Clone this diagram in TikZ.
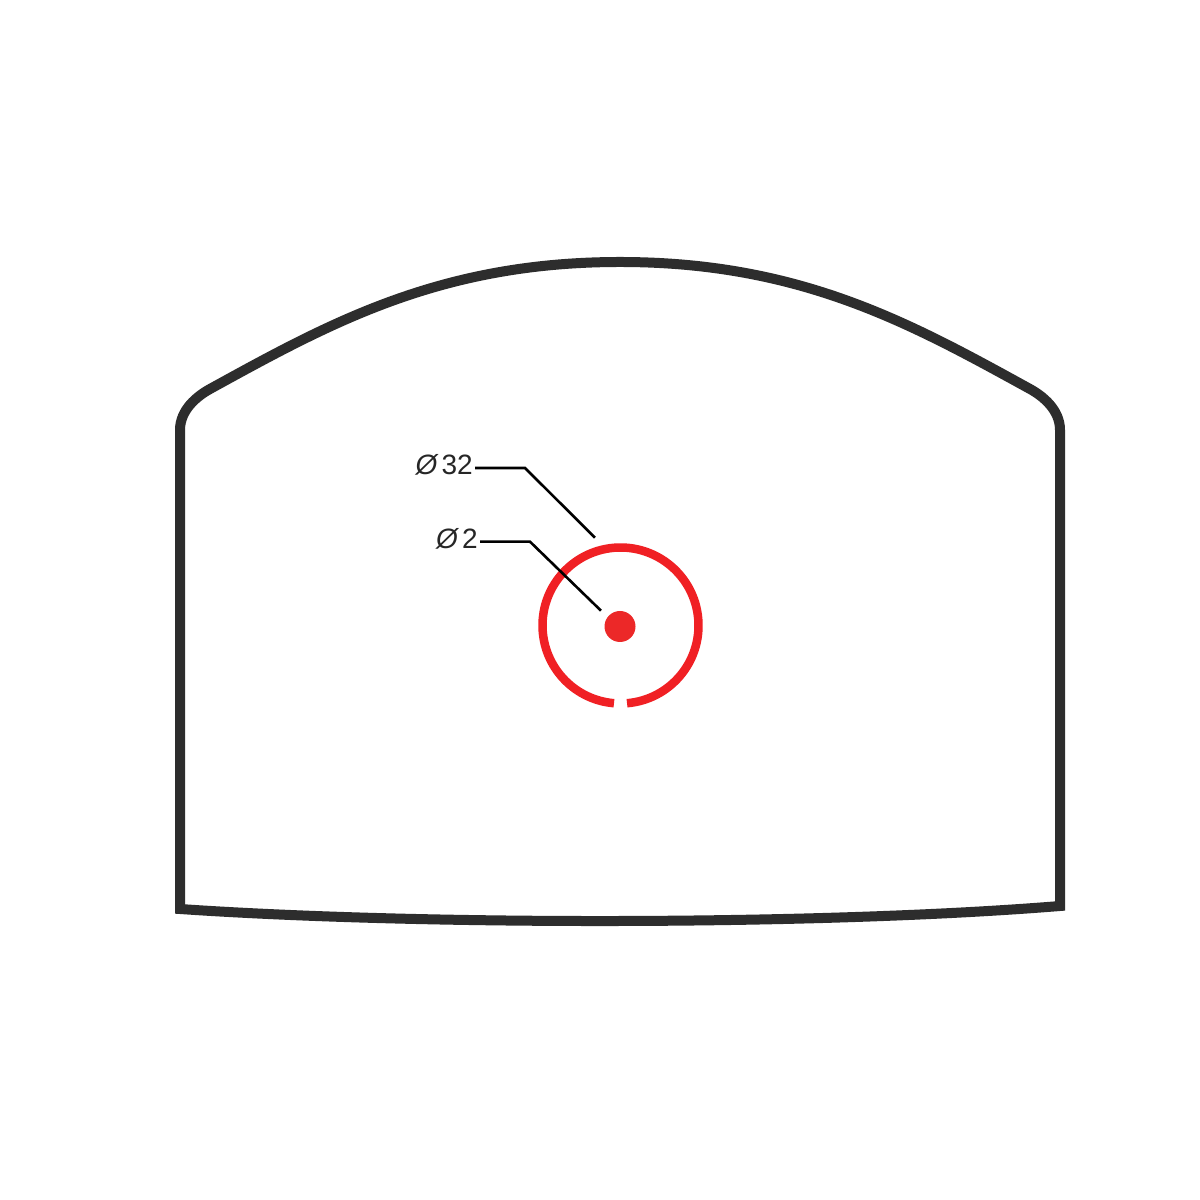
\documentclass[tikz,border=0pt]{standalone}
\usepackage{fontspec}
\setmainfont{Liberation Sans}
\definecolor{outl}{RGB}{45,45,45}
\definecolor{reticle}{RGB}{240,32,36}
\definecolor{dotred}{RGB}{236,40,40}
\begin{document}
\begin{tikzpicture}[x=1pt,y=1pt,
  outline/.style={draw=outl,line width=10pt,line join=miter},
  ringstyle/.style={draw=reticle,line width=8.5pt},
  leader/.style={draw=black,line width=2.6pt},
  lbl/.style={font=\fontsize{28}{32}\selectfont,inner sep=2pt,text=black!85}]
\fill[white] (0,0) rectangle (1200,1200);
\useasboundingbox (0,0) rectangle (1200,1200);
% housing outline
\draw[outline] (180,291) -- (180,770)
  .. controls (180,790) and (196.9,803.8) .. (210,811)
  .. controls (330,877) and (440,938) .. (620,938)
  .. controls (800,938) and (910,877) .. (1030,811)
  .. controls (1043.1,803.8) and (1060,790) .. (1060,770)
  -- (1060,294)
  .. controls (820,274.5) and (420,274.5) .. cycle;
% reticle
\coordinate (rc) at (620.5,574.5);
\draw[ringstyle] ([shift={(274.8:78)}]rc) arc[start angle=274.8,end angle=625.2,radius=78];
\node[circle,fill=dotred,minimum size=31pt,inner sep=0pt] (dot) at (620,573.5) {};
% labels
\node[lbl,anchor=base east] (l32) at (475,725) {\textit{Ø}\kern3pt 32};
\node[lbl,anchor=base east] (l2) at (480,651) {\textit{Ø}\kern3pt 2};
\coordinate (k32) at (525,732);
\coordinate (t32) at (595,662.3);
\coordinate (k2) at (530,658.3);
\coordinate (t2) at (601,589.3);
\draw[leader] (l32.east |- k32) -- (k32) -- (t32);
\draw[leader] (l2.east |- k2) -- (k2) -- (t2);
\end{tikzpicture}
\end{document}
